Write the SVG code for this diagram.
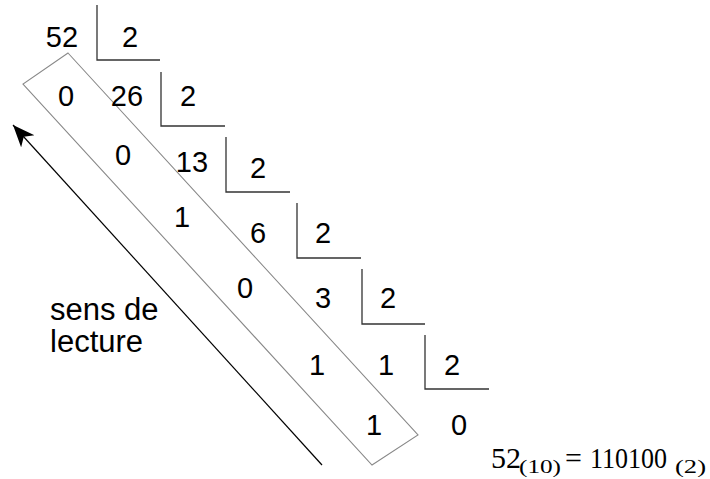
<svg xmlns="http://www.w3.org/2000/svg" width="710" height="479" viewBox="0 0 710 479">
<style>
.t{font-family:"Liberation Sans",Arial,sans-serif;font-size:29px;fill:#000;text-anchor:middle}
.lbl{font-family:"Liberation Sans",Arial,sans-serif;font-size:31px;fill:#000}
.f{font-family:"Liberation Serif","Times New Roman",serif;fill:#000}
.div{fill:none;stroke:#333;stroke-width:1.3}
.box{fill:none;stroke:#888;stroke-width:1.1}
</style>
<defs>
<marker id="ah" markerUnits="userSpaceOnUse" markerWidth="24" markerHeight="20" refX="22" refY="9" orient="auto">
<path d="M0,0 L22,9 L0,18 L6,9 Z" fill="#000"/>
</marker>
</defs>
<rect width="710" height="479" fill="#fff"/>
<g id="box"><polygon class="box" points="68,53 418,435 372,465 23,84"/></g>
<g id="step1"><path class="div" d="M97,5 V60 H160"/><text class="t" x="62" y="47">52</text><text class="t" x="130" y="47">2</text></g>
<g id="step2"><path class="div" d="M161,72 V126 H225"/><text class="t" x="66" y="106">0</text><text class="t" x="127" y="106">26</text><text class="t" x="188" y="106">2</text></g>
<g id="step3"><path class="div" d="M226,137 V192 H290"/><text class="t" x="123" y="165">0</text><text class="t" x="192" y="172">13</text><text class="t" x="258" y="178">2</text></g>
<g id="step4"><path class="div" d="M297,203 V258 H361"/><text class="t" x="182" y="227">1</text><text class="t" x="258" y="243">6</text><text class="t" x="323" y="243">2</text></g>
<g id="step5"><path class="div" d="M362,269 V324 H425"/><text class="t" x="245" y="298">0</text><text class="t" x="323" y="308">3</text><text class="t" x="388" y="308">2</text></g>
<g id="step6"><path class="div" d="M425,335 V389 H489"/><text class="t" x="317" y="375">1</text><text class="t" x="386" y="375">1</text><text class="t" x="452" y="375">2</text></g>
<g id="step7"><text class="t" x="374" y="435">1</text><text class="t" x="459" y="435">0</text></g>
<g id="connectors"><line x1="322" y1="465" x2="13" y2="125" stroke="#000" stroke-width="1.2" marker-end="url(#ah)"/></g>
<g id="label"><text class="lbl" x="50" y="320">sens de</text><text class="lbl" x="50" y="352">lecture</text></g>
<g id="formula">
<text class="f" x="491" y="468" font-size="30">52</text>
<text class="f" x="519" y="473" font-size="19" textLength="42" lengthAdjust="spacingAndGlyphs">(10)</text>
<text class="f" x="565" y="468" font-size="30">=</text>
<text class="f" x="590" y="468" font-size="30" textLength="77" lengthAdjust="spacingAndGlyphs">110100</text>
<text class="f" x="675" y="473" font-size="19" textLength="31" lengthAdjust="spacingAndGlyphs">(2)</text>
</g>
</svg>
